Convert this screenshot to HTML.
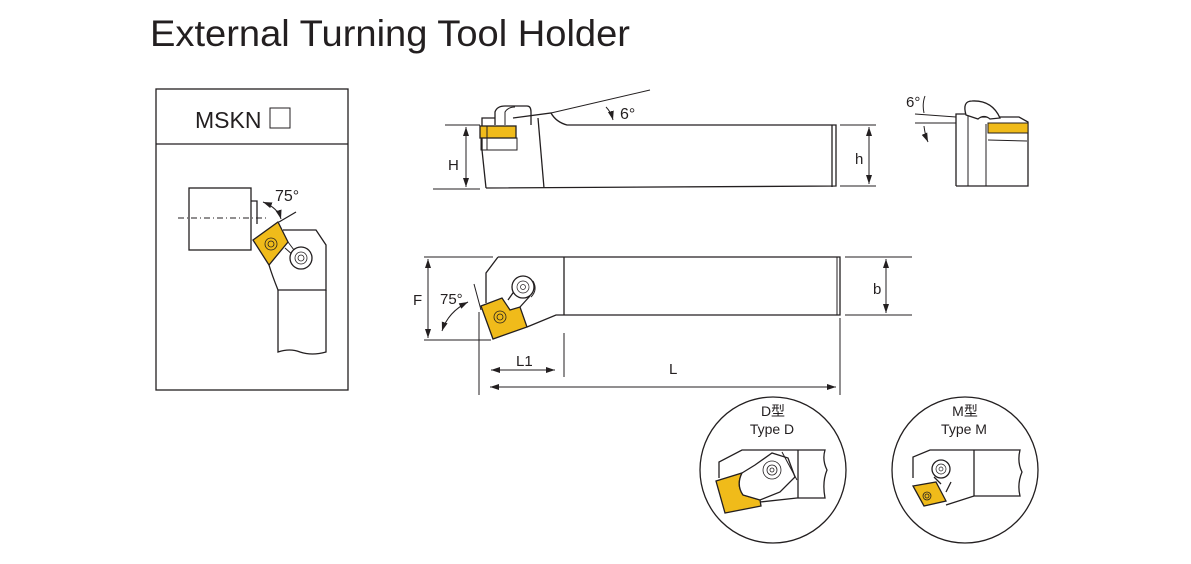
<!DOCTYPE html>
<html><head><meta charset="utf-8"><style>body{margin:0;background:#fff}svg{display:block}</style></head><body>
<svg width="1191" height="564" viewBox="0 0 1191 564" xmlns="http://www.w3.org/2000/svg" font-family="Liberation Sans, Noto Sans CJK SC, sans-serif" fill="none" stroke="#231f20" stroke-width="1.3">
<defs><marker id="a" markerWidth="10" markerHeight="8" refX="9" refY="4" orient="auto-start-reverse" markerUnits="userSpaceOnUse"><path d="M0,1 L9,4 L0,7 z" fill="#231f20" stroke="none"/></marker></defs>
<text x="150" y="46" font-size="37" fill="#231f20" stroke="none" textLength="480" lengthAdjust="spacingAndGlyphs">External Turning Tool Holder</text>
<!-- left box -->
<rect x="156" y="89" width="192" height="301"/>
<line x1="156" y1="144" x2="348" y2="144"/>
<text x="195" y="128" font-size="23" fill="#231f20" stroke="none">MSKN</text>
<rect x="270" y="108" width="20" height="20" stroke-width="1"/>
<rect x="189" y="188" width="62" height="62"/>
<path d="M251,201 H257 V224"/>
<line x1="178" y1="218" x2="268" y2="218" stroke-dasharray="6,3,1,3" stroke-width="1"/>
<text x="275" y="201" font-size="16" fill="#231f20" stroke="none">75°</text>
<path d="M263,202 Q278,208 281,219" marker-start="url(#a)" marker-end="url(#a)" stroke-width="1"/>
<line x1="279" y1="222" x2="296" y2="212"/>
<path d="M253,240 L278,222 L288,242 L269,265 Z" fill="#f0bb1a"/>
<circle cx="271" cy="244" r="6" stroke-width="0.8"/><circle cx="271" cy="244" r="3" stroke-width="0.8"/>
<path d="M283,230 H316 L326,245 V290 H278 Q272,275 269,265"/>
<path d="M285,248 L294,256 M288,242 L294,250" stroke-width="1"/>
<circle cx="301" cy="258" r="11" fill="#fff"/><circle cx="301" cy="258" r="6" stroke-width="0.8"/><circle cx="301" cy="258" r="3" stroke-width="0.8"/>
<path d="M278,290 V352 Q290,348 300,352 Q312,356 326,352 V290"/>
<!-- top view -->
<path d="M486,188 L836,186 V125 H567 Q556,122 551,113 L513,118"/>
<line x1="832" y1="125" x2="832" y2="187"/>
<line x1="538" y1="118" x2="544" y2="188"/>
<path d="M486,188 L482,150 V118 H495"/>
<path d="M495,125 V112 Q497,106 505,106 H527 Q531,106 531,112 V125"/>
<path d="M505,125 V112 Q508,107 515,107" stroke-width="1"/>
<rect x="480" y="126" width="36" height="12" fill="#f0bb1a"/>
<rect x="481" y="138" width="36" height="12" stroke-width="1"/>
<line x1="487" y1="126" x2="487" y2="150" stroke-width="1"/>
<line x1="551" y1="113" x2="650" y2="90" stroke-width="1"/>
<path d="M606,107 Q611,112 613,120" marker-end="url(#a)" stroke-width="1"/>
<text x="620" y="119" font-size="16" fill="#231f20" stroke="none">6°</text>
<line x1="445" y1="125" x2="480" y2="125" stroke-width="1"/><line x1="433" y1="189" x2="480" y2="189" stroke-width="1"/>
<line x1="466" y1="127" x2="466" y2="187" marker-start="url(#a)" marker-end="url(#a)" stroke-width="1"/>
<text x="448" y="170" font-size="15" fill="#231f20" stroke="none">H</text>
<line x1="840" y1="125" x2="876" y2="125" stroke-width="1"/><line x1="840" y1="186" x2="876" y2="186" stroke-width="1"/>
<line x1="869" y1="127" x2="869" y2="184" marker-start="url(#a)" marker-end="url(#a)" stroke-width="1"/>
<text x="855" y="164" font-size="15" fill="#231f20" stroke="none">h</text>
<!-- side view -->
<path d="M915,114 L956,117 M915,123 L956,123" stroke-width="1"/>
<path d="M956,186 V114 H969 L974,117 H1019 L1028,122 V186 H956"/>
<line x1="968" y1="116" x2="968" y2="186" stroke-width="1"/><line x1="986" y1="124" x2="986" y2="186" stroke-width="1"/>
<rect x="988" y="123" width="40" height="10" fill="#f0bb1a" stroke-width="1"/>
<line x1="988" y1="140" x2="1027" y2="141" stroke-width="1"/>
<path d="M966,115 Q962,101 972,101 Q992,100 1000,118 L990,119 Q984,114 978,119 Z" fill="#fff"/>
<path d="M925,96 Q922,104 924,113 M924,126 Q925,135 928,142" stroke-width="1" marker-end="url(#a)"/>
<text x="906" y="107" font-size="15" fill="#231f20" stroke="none">6°</text>
<!-- bottom view -->
<path d="M498,257 H840 V315 H556 L527,327"/>
<line x1="837" y1="257" x2="837" y2="315" stroke-width="1"/>
<line x1="564" y1="257" x2="564" y2="315"/>
<path d="M498,257 L486,273 V303"/>
<path d="M481,306 L502,298 L510,310 L520,307 L527,327 L493,339 Z" fill="#f0bb1a"/>
<circle cx="500" cy="317" r="6" stroke-width="0.8"/><circle cx="500" cy="317" r="3" stroke-width="0.8"/>
<path d="M508,300 L515,290 M520,307 L530,296"/>
<circle cx="523" cy="287" r="11" fill="#fff"/><circle cx="523" cy="287" r="6" stroke-width="0.7"/><circle cx="523" cy="287" r="2.5" stroke-width="0.7"/>
<path d="M533,281 Q538,290 531,297" stroke-width="1"/>
<line x1="474" y1="284" x2="481" y2="310" stroke-width="1"/>
<path d="M442,331 Q448,312 468,302" marker-start="url(#a)" marker-end="url(#a)" stroke-width="1"/>
<text x="440" y="304" font-size="15" fill="#231f20" stroke="none">75°</text>
<line x1="424" y1="257" x2="493" y2="257" stroke-width="1"/><line x1="424" y1="340" x2="491" y2="340" stroke-width="1"/>
<line x1="428" y1="259" x2="428" y2="338" marker-start="url(#a)" marker-end="url(#a)" stroke-width="1"/>
<text x="413" y="305" font-size="15" fill="#231f20" stroke="none">F</text>
<line x1="845" y1="257" x2="912" y2="257" stroke-width="1"/><line x1="845" y1="315" x2="912" y2="315" stroke-width="1"/>
<line x1="886" y1="259" x2="886" y2="313" marker-start="url(#a)" marker-end="url(#a)" stroke-width="1"/>
<text x="873" y="294" font-size="15" fill="#231f20" stroke="none">b</text>
<line x1="479" y1="312" x2="479" y2="395" stroke-width="1"/><line x1="840" y1="318" x2="840" y2="395" stroke-width="1"/>
<line x1="564" y1="333" x2="564" y2="377" stroke-width="1"/>
<line x1="491" y1="370" x2="555" y2="370" marker-start="url(#a)" marker-end="url(#a)" stroke-width="1"/>
<text x="516" y="366" font-size="15" fill="#231f20" stroke="none">L1</text>
<line x1="490" y1="387" x2="836" y2="387" marker-start="url(#a)" marker-end="url(#a)" stroke-width="1"/>
<text x="669" y="374" font-size="15" fill="#231f20" stroke="none">L</text>
<!-- circle D -->
<circle cx="773" cy="470" r="73"/>
<text x="773" y="416" font-size="14" fill="#231f20" stroke="none" text-anchor="middle">D型</text>
<text x="772" y="434" font-size="14" fill="#231f20" stroke="none" text-anchor="middle">Type D</text>
<path d="M719,478 V462 L742,450 H825 Q822,460 827,470 Q822,482 825,498 H797 L760,502 L757,498"/>
<line x1="798" y1="450" x2="798" y2="498"/>
<path d="M716,481 L742,473 Q736,485 743,495 L760,500 L761,506 L725,513 Z" fill="#f0bb1a"/>
<path d="M742,473 L755,465 L772,453 L788,458 L795,477 L780,492 L760,500 L743,495 Q736,485 742,473Z" fill="#fff"/>
<path d="M782,452 L797,480" stroke-width="1"/>
<circle cx="772" cy="470" r="9" stroke-width="0.8"/><circle cx="772" cy="470" r="5" stroke-width="0.8"/><circle cx="772" cy="470" r="2" stroke-width="0.8"/>
<!-- circle M -->
<circle cx="965" cy="470" r="73"/>
<text x="965" y="416" font-size="14" fill="#231f20" stroke="none" text-anchor="middle">M型</text>
<text x="964" y="434" font-size="14" fill="#231f20" stroke="none" text-anchor="middle">Type M</text>
<path d="M913,478 V457 L930,450 H1020 Q1017,462 1022,472 Q1017,484 1020,496 H974 L946,505"/>
<line x1="974" y1="450" x2="974" y2="496"/>
<path d="M913,486 L936,482 L946,501 L924,506 Z" fill="#f0bb1a"/>
<circle cx="927" cy="496" r="4" stroke-width="0.8"/><circle cx="927" cy="496" r="2" stroke-width="0.8"/>
<path d="M934,477 L941,484 M946,492 L951,482"/>
<circle cx="941" cy="469" r="9" fill="#fff"/><circle cx="941" cy="469" r="5" stroke-width="0.7"/><circle cx="941" cy="469" r="2" stroke-width="0.7"/>
</svg>
</body></html>
